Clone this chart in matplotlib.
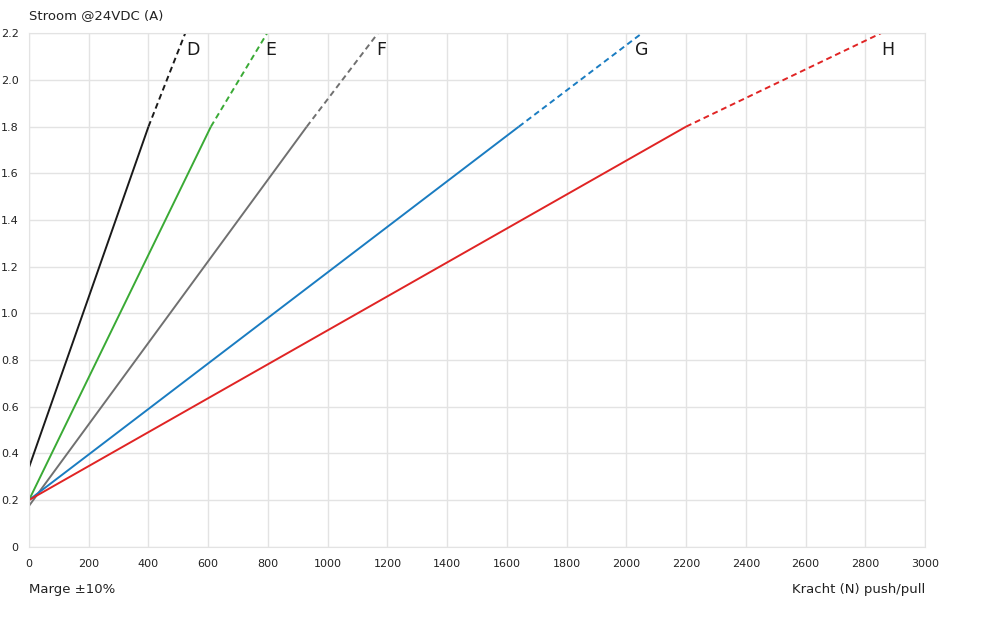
import numpy as np
import matplotlib.pyplot as plt

# actuator types
names = ['D', 'E', 'F', 'G', 'H']
colors = ['#1a1a1a', '#3aaa35', '#707070', '#1a7cc1', '#e02424']

# solid part: (kracht, stroom) start -> end
solid_x = [[0, 400], [0, 609], [0, 930], [0, 1640], [0, 2200]]
solid_y = [[0.34, 1.8], [0.2, 1.8], [0.175, 1.8], [0.2, 1.8], [0.2, 1.8]]
# dashed part continues up to the top of the chart
dash_x = [[400, 523], [609, 797], [930, 1168], [1640, 2052], [2200, 2852]]
dash_y = [[1.8, 2.2], [1.8, 2.2], [1.8, 2.2], [1.8, 2.2], [1.8, 2.2]]

label_x = [548, 811, 1179, 2052, 2875]
label_y = [2.13, 2.13, 2.13, 2.13, 2.13]

xticks = list(range(0, 3001, 200))
yticks = [0, 0.2, 0.4, 0.6, 0.8, 1.0, 1.2, 1.4, 1.6, 1.8, 2.0, 2.2]
ytick_labels = ['0', '0.2', '0.4', '0.6', '0.8', '1.0', '1.2', '1.4', '1.6', '1.8', '2.0', '2.2']

fig = plt.figure(figsize=(9.99, 6.2), dpi=100)
ax = fig.add_axes([29 / 999, 1 - 546.7 / 620, (925 - 29) / 999, (546.7 - 33.3) / 620])

for i in range(len(names)):
    ax.plot(solid_x[i], solid_y[i], color=colors[i], lw=1.4, solid_capstyle='butt')
    ax.plot(dash_x[i], dash_y[i], color=colors[i], lw=1.4, ls=(0, (3, 2)))
    ax.text(label_x[i], label_y[i], names[i], fontsize=12.5, color='#1a1a1a',
            ha='center', va='center')

ax.set_xlim(0, 3000)
ax.set_ylim(0, 2.2)
ax.set_xticks(xticks)
ax.set_xticklabels([str(t) for t in xticks], fontsize=8, color='#222222')
ax.set_yticks(yticks)
ax.set_yticklabels(ytick_labels, fontsize=8, color='#222222')
ax.tick_params(axis='x', length=0, pad=9)
ax.tick_params(axis='y', length=0, pad=7.5)
ax.grid(True, color='#e3e3e3', lw=1)
ax.set_axisbelow(True)
for s in ax.spines.values():
    s.set_color('#e3e3e3')

fig.text(29 / 999, 1 - 16 / 620, 'Stroom @24VDC (A)', fontsize=9.5, color='#222222',
         ha='left', va='center')
fig.text(29 / 999, 1 - 589 / 620, 'Marge ±10%', fontsize=9.5, color='#222222',
         ha='left', va='center')
fig.text(925 / 999, 1 - 589 / 620, 'Kracht (N) push/pull', fontsize=9.5, color='#222222',
         ha='right', va='center')

fig.savefig('out.png', dpi=100)
